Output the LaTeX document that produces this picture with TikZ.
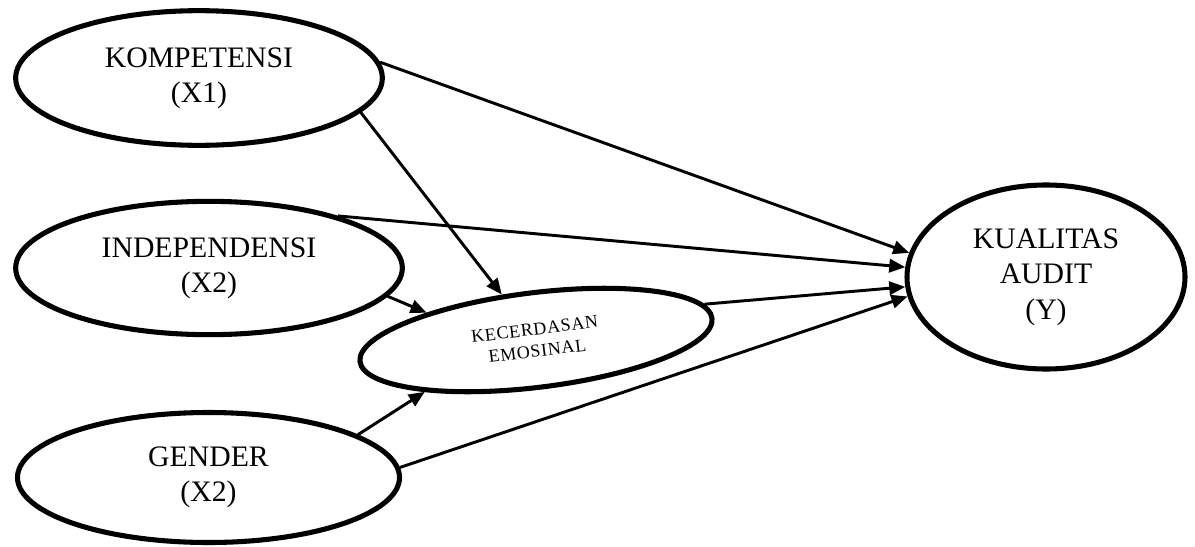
\documentclass[tikz,border=0pt]{standalone}
\usepackage{fontspec}
\setmainfont{Liberation Serif}
\usetikzlibrary{shapes.geometric,arrows.meta}
\begin{document}
\begin{tikzpicture}[x=0.75pt,y=-0.75pt,
  var/.style={ellipse,draw,line width=3.8pt,inner sep=0pt,align=center,
    font=\fontsize{22.3}{26.5}\selectfont},
  mediator/.style={ellipse,draw,line width=3.8pt,inner sep=0pt,align=center,
    font=\fontsize{13.5}{16.5}\selectfont\addfontfeature{LetterSpace=4}},
  link/.style={line width=2.2pt,-{Triangle[length=12pt,width=10pt]}}]
\useasboundingbox (0,0) rectangle (1195,546);

% latent variables
\node[var,minimum width=275pt,minimum height=101pt] (komp) at (199,78) {KOMPETENSI\\(X1)};
\node[var,minimum width=290pt,minimum height=100pt] (indep) at (209,268) {INDEPENDENSI\\(X2)};
\node[var,minimum width=286.5pt,minimum height=97.5pt] (gender) at (208.5,477.5) {GENDER\\(X2)};
\node[var,minimum width=208.5pt,minimum height=138pt] (kual) at (1046,277) {KUALITAS\\AUDIT\\(Y)};
\node[mediator,rotate=7,minimum width=266pt,minimum height=71pt] (kec) at (536,340) {KECERDASAN\\EMOSINAL};

% paths
\draw[link] (komp.5) -- (kual.170);
\draw[link] (komp.-12) -- (kec.120);
\draw[link] (indep.22) -- (kual.176);
\draw[link] (indep.-9) -- (kec.159);
\draw[link] (kec.5) -- (kual.184);
\draw[link] (gender.16) -- (kec.198);
\draw[link] (gender.3) -- (kual.188.5);
\end{tikzpicture}
\end{document}
